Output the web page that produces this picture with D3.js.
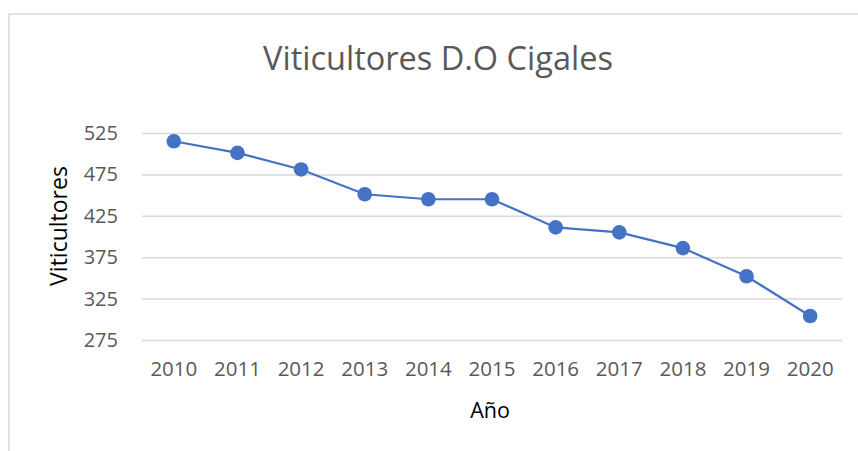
<!DOCTYPE html>
<html>
<head>
<meta charset="utf-8">
<script src="https://cdn.jsdelivr.net/npm/d3@7"></script>
<style>
    body { margin: 0; background: #fff; }
    text { font-family: "Open Sans", "Noto Sans", sans-serif; }
</style>
</head>
<body>
<div id="chart-container"></div>
<script>
/*
    Viticultores D.O Cigales, linea con marcadores
 */

var years = ['2010', '2011', '2012', '2013', '2014', '2015', '2016', '2017', '2018', '2019', '2020'];
var viticultores = [515, 501, 481, 451, 445, 445, 411, 405, 386, 352, 304];
var y_ticks = [275, 325, 375, 425, 475, 525];

var svg_size = {
    'width': 858,
    'height': 451
};

var plot_area = {
    'left': 142,
    'right': 842,
    'top': 133,
    'bottom': 340
};

var svg = d3.select("#chart-container")
    .append("svg")
    .attr('width', svg_size.width)
    .attr('height', svg_size.height);

// marco del grafico
svg.append('rect')
    .attr('x', 9)
    .attr('y', 14)
    .attr('width', 880)
    .attr('height', 460)
    .style('fill', 'none')
    .style('stroke', '#d9d9d9')
    .style('stroke-width', '1.5px');

var x_scale = d3.scaleBand()
    .domain(years)
    .range([plot_area.left, plot_area.right]);

var y_scale = d3.scaleLinear()
    .domain([275, 525])
    .range([plot_area.bottom, plot_area.top]);

// lineas de cuadricula y etiquetas del eje Y
var y_axis = d3.axisLeft(y_scale)
    .tickValues(y_ticks)
    .tickSize(-(plot_area.right - plot_area.left))
    .tickPadding(24);

var y_axis_group = svg.append('g')
    .attr('transform', 'translate(' + plot_area.left + ',0)')
    .call(y_axis);

y_axis_group.select('.domain').remove();
y_axis_group.selectAll('.tick line')
    .style('stroke', '#d9d9d9')
    .style('stroke-width', '1.5px');
y_axis_group.selectAll('.tick text')
    .style('font-size', '20px')
    .style('fill', '#595959');

// eje X
var x_axis = d3.axisBottom(x_scale)
    .tickSize(0)
    .tickPadding(21);

var x_axis_group = svg.append('g')
    .attr('transform', 'translate(0,' + plot_area.bottom + ')')
    .call(x_axis);

x_axis_group.select('.domain').remove();
x_axis_group.selectAll('.tick text')
    .style('font-size', '20.5px')
    .style('fill', '#595959');

// linea
var line = d3.line()
    .x(function(d, i){ return x_scale(years[i]) + x_scale.bandwidth() / 2; })
    .y(function(d){ return y_scale(d); });

svg.append('path')
    .datum(viticultores)
    .attr('d', line)
    .style('fill', 'none')
    .style('stroke', '#4472c4')
    .style('stroke-width', '2.2px');

svg.selectAll('.punto')
    .data(viticultores)
    .enter()
    .append('circle')
    .classed('punto', true)
    .attr('cx', function(d, i){ return x_scale(years[i]) + x_scale.bandwidth() / 2; })
    .attr('cy', function(d){ return y_scale(d); })
    .attr('r', 7.3)
    .style('fill', '#4472c4');

// titulo
svg.append('text')
    .attr('x', 438)
    .attr('y', 70)
    .attr('text-anchor', 'middle')
    .style('font-size', '32.5px')
    .style('fill', '#595959')
    .text('Viticultores D.O Cigales');

// titulos de los ejes
svg.append('text')
    .attr('x', 490)
    .attr('y', 418)
    .attr('text-anchor', 'middle')
    .style('font-size', '21.5px')
    .style('fill', '#000')
    .text('Año');

svg.append('text')
    .attr('transform', 'translate(67,226) rotate(-90)')
    .attr('text-anchor', 'middle')
    .style('font-size', '23px')
    .style('fill', '#000')
    .text('Viticultores');
</script>
</body>
</html>
